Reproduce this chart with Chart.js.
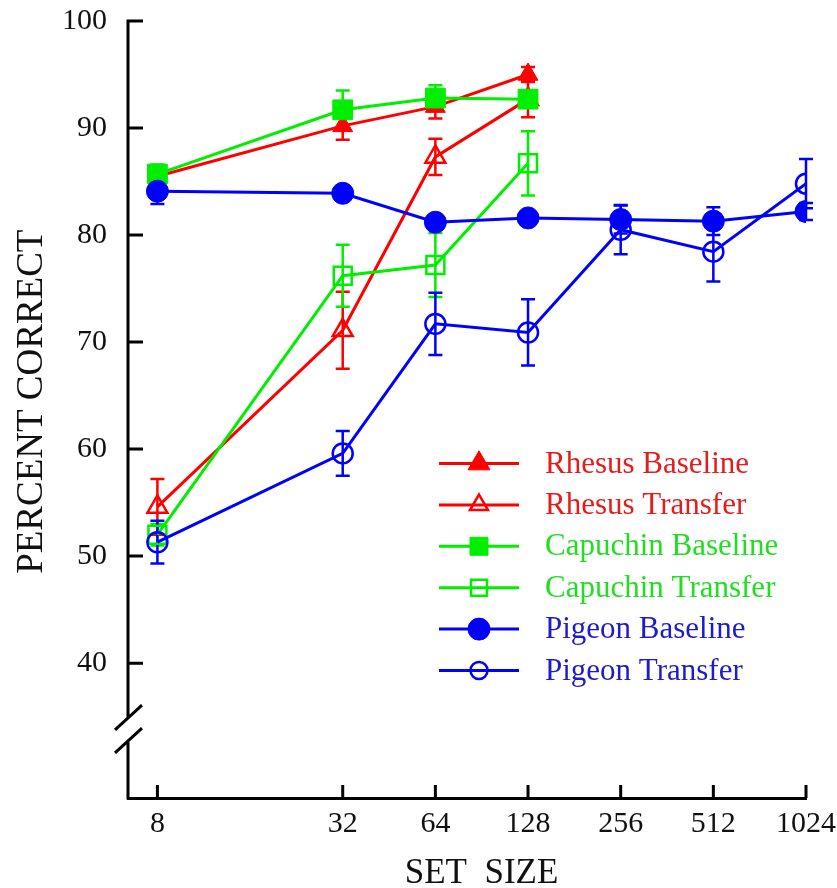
<!DOCTYPE html>
<html>
<head>
<meta charset="utf-8">
<script src="https://cdn.jsdelivr.net/npm/chart.js@4.4.1/dist/chart.umd.min.js"></script>
<style>
  html, body { margin: 0; padding: 0; background: #fff; }
  #wrap { width: 837px; height: 888px; }
</style>
</head>
<body>
<div id="wrap"><canvas id="chart" width="837" height="888"></canvas></div>
<script>
// set sizes (x) and tick labels
const setSizes = [8, 32, 64, 128, 256, 512, 1024];
const xTicks = [8, 32, 64, 128, 256, 512, 1024];
const yTicks = [40, 50, 60, 70, 80, 90, 100];
const xTitle = 'SET  SIZE';
const yTitle = 'PERCENT CORRECT';

// percent correct
const rhesusBaseline = [85.5, 90.2, 92.0, 95.0];
const rhesusBaselineErr = [0.8, 1.3, 1.1, 0.7];
const rhesusTransfer = [54.6, 71.1, 87.3, 92.7];
const rhesusTransferErr = [2.6, 3.6, 1.7, 1.7];
const capuchinBaseline = [85.7, 91.7, 92.8, 92.7];
const capuchinBaselineErr = [0.9, 1.8, 1.2, 0.6];
const capuchinTransfer = [52.0, 76.2, 77.2, 86.7];
const capuchinTransferErr = [1.0, 2.9, 3.0, 3.0];
const pigeonBaseline = [84.1, 83.9, 81.2, 81.6, 81.45, 81.3, 82.2];
const pigeonBaselineErr = [1.2, 0.5, 0.6, 0.6, 1.3, 1.3, 0.8];
const pigeonTransfer = [51.3, 59.6, 71.7, 70.9, 80.5, 78.45, 84.8];
const pigeonTransferErr = [2.0, 2.1, 2.9, 3.1, 2.3, 2.8, 2.3];

const RED = '#ff0000', GREEN = '#00ee00', BLUE = '#0000ff';
const SERIF = "'Liberation Serif', 'Times New Roman', serif";

function points(values) {
    return values.map((v, i) => ({ x: setSizes[i], y: v }));
}

function series(label, values, errors, color, textColor, style, filled, radius, legendRadius, order) {
    return {
        label: label,
        data: points(values),
        errors: errors,
        textColor: textColor,
        legendRadius: legendRadius,
        borderColor: color,
        backgroundColor: color,
        borderWidth: 3,
        tension: 0,
        pointStyle: style,
        pointRadius: radius,
        pointHoverRadius: radius,
        pointBorderColor: color,
        pointBackgroundColor: filled ? color : 'rgba(0,0,0,0)',
        pointBorderWidth: filled ? 1 : 2.5,
        order: order
    };
}

// error bars under the markers
const errorBars = {
    id: 'errorBars',
    beforeDatasetsDraw(chart) {
        const ctx = chart.ctx;
        const y = chart.scales.y;
        ctx.save();
        ctx.lineWidth = 2.5;
        chart.data.datasets.forEach((ds, di) => {
            const meta = chart.getDatasetMeta(di);
            ctx.strokeStyle = ds.borderColor;
            meta.data.forEach((pt, i) => {
                const v = ds.data[i].y, e = ds.errors[i];
                const top = y.getPixelForValue(v + e);
                const bot = y.getPixelForValue(v - e);
                ctx.beginPath();
                ctx.moveTo(pt.x, top); ctx.lineTo(pt.x, bot);
                ctx.moveTo(pt.x - 7, top); ctx.lineTo(pt.x + 7, top);
                ctx.moveTo(pt.x - 7, bot); ctx.lineTo(pt.x + 7, bot);
                ctx.stroke();
            });
        });
        ctx.restore();
    }
};

// y axis with break, inward tick marks on both axes, axis titles
const axisDecor = {
    id: 'axisDecor',
    afterDraw(chart) {
        const { ctx, chartArea, scales: { x, y } } = chart;
        const ax = chartArea.left;
        const bottom = chartArea.bottom;
        const topPx = y.getPixelForValue(100);
        const brk1 = 717.5, brk2 = 740.5;
        ctx.save();
        ctx.strokeStyle = '#000';
        ctx.lineWidth = 3;
        ctx.beginPath();
        ctx.moveTo(ax, topPx - 1.5); ctx.lineTo(ax, brk1);
        ctx.moveTo(ax, brk2); ctx.lineTo(ax, bottom + 1.5);
        // break slashes
        [brk1, brk2].forEach(b => {
            ctx.moveTo(ax - 13, b + 12.3);
            ctx.lineTo(ax + 14, b - 12.3);
        });
        yTicks.forEach(v => {
            const p = y.getPixelForValue(v);
            ctx.moveTo(ax, p); ctx.lineTo(ax + 15, p);
        });
        xTicks.forEach(v => {
            const p = x.getPixelForValue(v);
            ctx.moveTo(p, bottom); ctx.lineTo(p, bottom - 13);
        });
        ctx.stroke();

        ctx.fillStyle = '#111';
        ctx.textAlign = 'center';
        ctx.textBaseline = 'alphabetic';
        ctx.font = '35px ' + SERIF;
        ctx.fillText(xTitle, 481.5, 883);
        ctx.translate(41.5, 401.7);
        ctx.rotate(-Math.PI / 2);
        ctx.font = '37px ' + SERIF;
        ctx.fillText(yTitle, 0, 0);
        ctx.restore();
    }
};

// legend: line through marker, coloured text
const legendBox = {
    id: 'legendBox',
    afterDraw(chart) {
        const ctx = chart.ctx;
        const x0 = 439, x1 = 519, xm = 479, xt = 545;
        const row0 = 463.5, rowGap = 41.4;
        ctx.save();
        chart.data.datasets.forEach((ds, i) => {
            const yy = row0 + i * rowGap;
            ctx.strokeStyle = ds.borderColor;
            ctx.lineWidth = 3;
            ctx.beginPath();
            ctx.moveTo(x0, yy); ctx.lineTo(x1, yy);
            ctx.stroke();
            ctx.fillStyle = ds.pointBackgroundColor;
            ctx.lineWidth = ds.pointBorderWidth;
            Chart.helpers.drawPoint(ctx, {
                pointStyle: ds.pointStyle,
                radius: ds.legendRadius,
                rotation: 0,
                borderWidth: ds.pointBorderWidth
            }, xm, yy);
            ctx.fillStyle = ds.textColor;
            ctx.font = '31px ' + SERIF;
            ctx.textAlign = 'left';
            ctx.textBaseline = 'middle';
            ctx.fillText(ds.label, xt, yy + 1);
        });
        ctx.restore();
    }
};

new Chart(document.getElementById('chart').getContext('2d'), {
    type: 'line',
    data: {
        datasets: [
            series('Rhesus Baseline', rhesusBaseline, rhesusBaselineErr, RED, '#e41c1c', 'triangle', true, 11.5, 12.7, 2),
            series('Rhesus Transfer', rhesusTransfer, rhesusTransferErr, RED, '#e41c1c', 'triangle', false, 11.5, 10.4, 2),
            series('Capuchin Baseline', capuchinBaseline, capuchinBaselineErr, GREEN, '#22dd22', 'rect', true, 14, 12.7, 1),
            series('Capuchin Transfer', capuchinTransfer, capuchinTransferErr, GREEN, '#22dd22', 'rect', false, 12.7, 11.3, 1),
            series('Pigeon Baseline', pigeonBaseline, pigeonBaselineErr, BLUE, '#1c1cc8', 'circle', true, 11, 11, 0),
            series('Pigeon Transfer', pigeonTransfer, pigeonTransferErr, BLUE, '#1c1cc8', 'circle', false, 10, 8.5, 0)
        ]
    },
    options: {
        responsive: false,
        animation: false,
        layout: { padding: { top: 21, right: 31, left: 0, bottom: 0 } },
        plugins: {
            legend: { display: false },
            tooltip: { enabled: false }
        },
        scales: {
            x: {
                type: 'logarithmic',
                min: 6.42,
                max: 1024,
                bounds: 'data',
                afterBuildTicks: s => { s.ticks = xTicks.map(v => ({ value: v })); },
                afterFit: s => { s.height = 90; s.paddingLeft = 0; s.paddingRight = 0; },
                grid: { display: false, drawTicks: false },
                border: { display: true, color: '#000', width: 3 },
                ticks: {
                    autoSkip: false,
                    maxRotation: 0,
                    color: '#111',
                    padding: 8,
                    font: { family: SERIF, size: 30 },
                    callback: v => String(v)
                }
            },
            y: {
                min: 27.4,
                max: 100,
                bounds: 'data',
                afterBuildTicks: s => { s.ticks = yTicks.map(v => ({ value: v })); },
                afterFit: s => { s.width = 128; s.paddingTop = 0; s.paddingBottom = 0; },
                grid: { display: false, drawTicks: false },
                border: { display: false },
                ticks: {
                    color: '#111',
                    padding: 21,
                    font: { family: SERIF, size: 30 }
                }
            }
        }
    },
    plugins: [errorBars, axisDecor, legendBox]
});
</script>
</body>
</html>
